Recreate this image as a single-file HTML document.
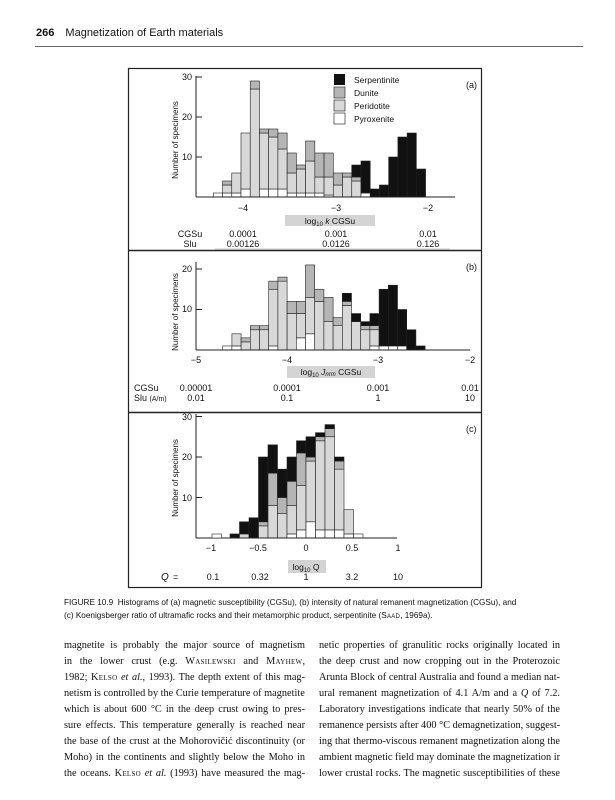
<!DOCTYPE html>
<html><head><meta charset="utf-8">
<style>
html,body{margin:0;padding:0;background:#fff;}
body{width:615px;height:800px;position:relative;overflow:hidden;font-family:"Liberation Sans",sans-serif;color:#111;}
.hdr{position:absolute;left:36px;top:27px;font-size:11px;}
.hdr b{margin-right:8px;}
.rule{position:absolute;left:35px;top:46px;width:548px;height:1px;background:#666;}
svg{position:absolute;left:0;top:0;}
.cap{position:absolute;left:64px;top:596px;font-size:8.2px;line-height:13px;width:530px;}
.col{position:absolute;top:638px;width:241px;font-family:"Liberation Serif",serif;font-size:10.3px;line-height:16px;}
.col div{text-align:justify;text-align-last:justify;white-space:nowrap;overflow:hidden;}
.sc{font-variant:small-caps;letter-spacing:0.3px;}
</style></head><body>
<div class="hdr"><b>266</b> Magnetization of Earth materials</div>
<div class="rule"></div>
<svg id="s" width="615" height="800" font-family="Liberation Sans, sans-serif">
<rect x="128.5" y="68.5" width="353" height="519" fill="none" stroke="#222" stroke-width="1.2"/>
<line x1="128" y1="250.5" x2="482" y2="250.5" stroke="#222" stroke-width="1.6"/>
<line x1="128" y1="412.5" x2="482" y2="412.5" stroke="#222" stroke-width="1.6"/>
<g font-size="8" fill="#111">
<text transform="translate(178,140) rotate(-90)" text-anchor="middle">Number of specimens</text>
<text transform="translate(178,312) rotate(-90)" text-anchor="middle">Number of specimens</text>
<text transform="translate(178,478) rotate(-90)" text-anchor="middle">Number of specimens</text>
</g>
<g font-size="9" fill="#111">
<text x="466" y="88">(a)</text><text x="466" y="270">(b)</text><text x="466" y="432">(c)</text>
<text x="192" y="80" text-anchor="end">30</text>
<text x="192" y="120" text-anchor="end">20</text>
<text x="192" y="160" text-anchor="end">10</text>
<text x="192" y="272" text-anchor="end">20</text>
<text x="192" y="312" text-anchor="end">10</text>
<text x="192" y="420" text-anchor="end">30</text>
<text x="192" y="460" text-anchor="end">20</text>
<text x="192" y="501" text-anchor="end">10</text>
<text x="243" y="211" text-anchor="middle">−4</text>
<text x="336" y="211" text-anchor="middle">−3</text>
<text x="428" y="211" text-anchor="middle">−2</text>
<text x="196" y="363" text-anchor="middle">−5</text>
<text x="287" y="363" text-anchor="middle">−4</text>
<text x="378" y="363" text-anchor="middle">−3</text>
<text x="470" y="363" text-anchor="middle">−2</text>
<text x="211" y="551" text-anchor="middle">−1</text>
<text x="258" y="551" text-anchor="middle">−0.5</text>
<text x="306" y="551" text-anchor="middle">0</text>
<text x="352" y="551" text-anchor="middle">0.5</text>
<text x="398" y="551" text-anchor="middle">1</text>
</g>
<rect x="285" y="215" width="90" height="11" fill="#d4d4d4"/>
<rect x="287" y="366" width="88" height="12" fill="#d4d4d4"/>
<rect x="288" y="560" width="38" height="13" fill="#d4d4d4"/>
<g font-size="8.5" fill="#111">
<text x="330" y="224" text-anchor="middle">log<tspan font-size="6" dy="2">10</tspan><tspan dy="-2"> </tspan><tspan font-style="italic">k</tspan> CGSu</text>
<text x="331" y="375" text-anchor="middle">log<tspan font-size="6" dy="2">10</tspan><tspan dy="-2"> </tspan><tspan font-style="italic">J</tspan><tspan font-size="6" dy="1" font-style="italic">nrm</tspan><tspan dy="-1"> CGSu</tspan></text>
<text x="306" y="570" text-anchor="middle">log<tspan font-size="6" dy="2">10</tspan><tspan dy="-2"> Q</tspan></text>
</g>
<g font-size="9" fill="#111">
<text x="190" y="237" text-anchor="middle">CGSu</text>
<text x="190" y="247" text-anchor="middle">Slu</text>
<text x="243" y="237" text-anchor="middle">0.0001</text>
<text x="336" y="237" text-anchor="middle">0.001</text>
<text x="428" y="237" text-anchor="middle">0.01</text>
<text x="243" y="247" text-anchor="middle">0.00126</text>
<text x="336" y="247" text-anchor="middle">0.0126</text>
<text x="428" y="247" text-anchor="middle">0.126</text>
<line x1="215" y1="249" x2="450" y2="249" stroke="#999" stroke-width="0.5"/>
<text x="134" y="391">CGSu</text>
<text x="134" y="401">Slu <tspan font-size="7">(A/m)</tspan></text>
<text x="196" y="391" text-anchor="middle">0.00001</text>
<text x="287" y="391" text-anchor="middle">0.0001</text>
<text x="378" y="391" text-anchor="middle">0.001</text>
<text x="470" y="391" text-anchor="middle">0.01</text>
<text x="196" y="401" text-anchor="middle">0.01</text>
<text x="287" y="401" text-anchor="middle">0.1</text>
<text x="378" y="401" text-anchor="middle">1</text>
<text x="470" y="401" text-anchor="middle">10</text>
<text x="161" y="580" font-style="italic" font-size="10">Q</text><text x="173" y="580">=</text>
<text x="213" y="580" text-anchor="middle">0.1</text>
<text x="260" y="580" text-anchor="middle">0.32</text>
<text x="306" y="580" text-anchor="middle">1</text>
<text x="352" y="580" text-anchor="middle">3.2</text>
<text x="398" y="580" text-anchor="middle">10</text>
</g>
<g font-size="8.5" fill="#111">
<rect x="334" y="74" width="11" height="11" fill="#111"/><text x="354" y="83">Serpentinite</text>
<rect x="334" y="87" width="11" height="11" fill="#b5b5b5" stroke="#333" stroke-width="0.7"/><text x="354" y="96">Dunite</text>
<rect x="334" y="100" width="11" height="11" fill="#d8d8d8" stroke="#333" stroke-width="0.7"/><text x="354" y="109">Peridotite</text>
<rect x="334" y="113" width="11" height="11" fill="#fff" stroke="#333" stroke-width="0.7"/><text x="354" y="122">Pyroxenite</text>
</g>
<g id="bars"></g>
</svg>
<div class="cap">FIGURE 10.9&nbsp; Histograms of (a) magnetic susceptibility (CGSu), (b) intensity of natural remanent magnetization (CGSu), and<br>(c) Koenigsberger ratio of ultramafic rocks and their metamorphic product, serpentinite (<span class="sc">Saad</span>, 1969a).</div>
<div class="col" style="left:64px;">
<div>magnetite is probably the major source of magnetism</div>
<div>in the lower crust (e.g. <span class="sc">Wasilewski</span> and <span class="sc">Mayhew</span>,</div>
<div>1982; <span class="sc">Kelso</span> <i>et al.</i>, 1993). The depth extent of this mag-</div>
<div>netism is controlled by the Curie temperature of magnetite,</div>
<div>which is about 600 °C in the deep crust owing to pres-</div>
<div>sure effects. This temperature generally is reached near</div>
<div>the base of the crust at the Mohorovičić discontinuity (or</div>
<div>Moho) in the continents and slightly below the Moho in</div>
<div>the oceans. <span class="sc">Kelso</span> <i>et al.</i> (1993) have measured the mag-</div>
</div>
<div class="col" style="left:319px;">
<div>netic properties of granulitic rocks originally located in</div>
<div>the deep crust and now cropping out in the Proterozoic</div>
<div>Arunta Block of central Australia and found a median nat-</div>
<div>ural remanent magnetization of 4.1 A/m and a <i>Q</i> of 7.2.</div>
<div>Laboratory investigations indicate that nearly 50% of the</div>
<div>remanence persists after 400 °C demagnetization, suggest-</div>
<div>ing that thermo-viscous remanent magnetization along the</div>
<div>ambient magnetic field may dominate the magnetization in</div>
<div>lower crustal rocks. The magnetic susceptibilities of these</div>
</div>
<script>
(function(){
var g=document.getElementById('bars');var NS='http://www.w3.org/2000/svg';
function el(n,a){var e=document.createElementNS(NS,n);for(var k in a)e.setAttribute(k,a[k]);g.appendChild(e);}
var cols=['#fff','#d8d8d8','#b5b5b5','#111'];
function panel(base,unit,x0,w,bins,axL,axR,axTop,ticks){
 bins.forEach(function(b,i){var x=x0+i*w,prev=0;
  for(var j=0;j<4;j++){var v=b[j];if(v==null||v<=prev)continue;
   el('rect',{x:x,y:base-v*unit,width:w,height:(v-prev)*unit,fill:cols[j],stroke:'#222','stroke-width':0.6});prev=v;}
 });
 el('line',{x1:axL,y1:base,x2:axR,y2:base,stroke:'#222','stroke-width':1});
 el('line',{x1:axL,y1:base,x2:axL,y2:axTop,stroke:'#222','stroke-width':1});
 ticks.forEach(function(t){el('line',{x1:axL,y1:base-t*unit,x2:axL+6,y2:base-t*unit,stroke:'#222','stroke-width':1});});
}
panel(197,4,213.3,9.23,[
[1],[1,3,4],[1,6],[2,16],[0,27,29],[2,16,17],[2,15,17],[2,12,16],[1,6,11],[1,7,8],[1,9,14],[1,5,11],[0.5,5,11],[0,3,6],[0,5,6],[0,4,5,8],[1,0,0,9],[0,0,0,2],[0,0,0,3],[0,0,0,10],[0,0,0,15],[0,0,0,16],[0,0,0,7]
],196,455,76,[10,20,30]);
panel(350,4.05,222.7,9.2,[
[1],[1,4],[0,2,3],[0,5,6],[0,5,6],[1,15,17],[0,17,18],[0,9,12],[3,9,12],[4,13,21],[0,12,15],[0,7,13],[0,6,8],[0,11,12,14],[0,7,7,9],[0,5,6,7],[1,5,6,9],[1,0,0,15],[1,0,0,16],[1,0,0,10],[0,0,0,5],[0,0,0,1]
],196,470,262,[10,20]);
panel(538,4.05,230,9.5,[
[0,0,0,1],[0,1,1,4],[0,0,0,5],[0,3,4,20],[0,8,16,23],[0,6,10,17],[1,8,14,20],[2,13,21,24],[4,19,20,25],[2,24,25,26],[2,25,27,28],[2,17,19,20],[1,7],[1]
],196,397,414,[10,20,30]);
el('rect',{x:212,y:534,width:9.5,height:4,fill:'#fff',stroke:'#222','stroke-width':0.6});
})();
</script>
</body></html>
